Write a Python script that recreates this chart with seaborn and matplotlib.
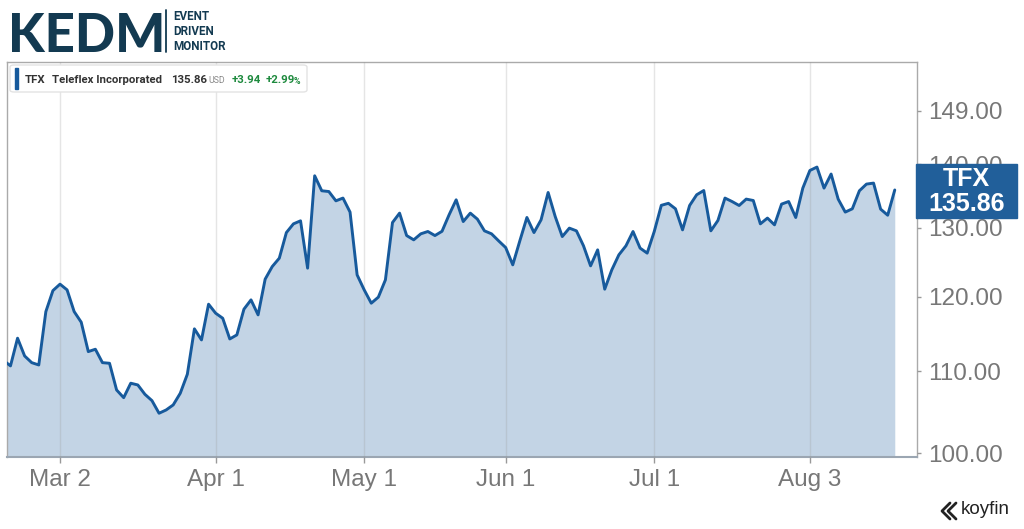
import numpy as np
import pandas as pd
import seaborn as sns
import matplotlib.pyplot as plt
from matplotlib.patches import Rectangle, FancyBboxPatch
from matplotlib.lines import Line2D
from matplotlib.ticker import FixedLocator, FuncFormatter, NullLocator

# daily closes (trading days)
prices = [111.40, 110.68, 114.31, 111.97, 111.10, 110.80, 117.91, 120.83, 121.74, 120.93,
          117.91, 116.46, 112.54, 112.85, 111.10, 111.02, 107.62, 106.66, 108.47, 108.25,
          107.08, 106.29, 104.74, 105.14, 105.76, 107.21, 109.61, 115.56, 114.08, 118.93,
          117.69, 117.00, 114.21, 114.75, 118.24, 119.53, 117.46, 122.45, 124.26, 125.48,
          129.28, 130.60, 131.06, 124.03, 138.12, 135.73, 135.61, 134.15, 134.58, 132.40,
          123.06, 120.93, 119.07, 119.91, 122.35, 130.80, 132.24, 128.83, 128.19, 129.09,
          129.44, 128.83, 129.47, 131.98, 134.31, 130.95, 132.24, 131.32, 129.54, 129.09,
          128.04, 127.04, 124.51, 128.04, 131.57, 129.28, 131.21, 135.46, 131.72, 128.68,
          129.95, 129.54, 127.30, 124.36, 126.70, 121.03, 123.78, 125.97, 127.30, 129.44,
          126.96, 126.22, 129.44, 133.45, 133.76, 132.91, 129.69, 133.42, 135.10, 135.77,
          129.54, 131.11, 134.58, 134.04, 133.42, 134.42, 134.20, 130.60, 131.48, 130.45,
          133.64, 134.04, 131.57, 136.15, 138.98, 139.53, 136.15, 138.40, 134.42, 132.40,
          132.91, 135.73, 136.79, 136.95, 132.86, 131.92, 135.86]
tick_idx = [8, 30, 51, 71, 92, 114]
tick_labels = ['Mar 2', 'Apr 1', 'May 1', 'Jun 1', 'Jul 1', 'Aug 3']
ytick_vals = [100, 110, 120, 130, 140, 149]
ticker = 'TFX'
company = 'Teleflex Incorporated'
last_px = '135.86'
chg = '+3.94'
chg_pct = '+2.99'

W, H = 1024, 529
def fx(px):
    return px / W
def fy(py):
    return 1 - py / H

sns.set_style('white')
plt.rcParams['font.family'] = ['Liberation Sans', 'DejaVu Sans']

LINE = '#175a9c'
NAVY = '#133a51'
GREY = '#777777'

fig = plt.figure(figsize=(10.24, 5.29), dpi=100)
ax = fig.add_axes([fx(7.3), fy(456.7), (916.7 - 7.3) / W, (456.7 - 62) / H])

df = pd.DataFrame({'Day': np.arange(len(prices)), 'Price': prices})
ymin, ymax = 99.57, 157.7
ax.set_yscale('log')
ax.fill_between(df['Day'], df['Price'], ymin, color='#c3d4e5', lw=0, zorder=1)
sns.lineplot(data=df, x='Day', y='Price', ax=ax, color=LINE, linewidth=2.1, zorder=3)
ax.set_ylim(ymin, ymax)
ax.set_xlim(0.55, 129.1)

ax.set_xticks(tick_idx)
ax.set_xticklabels(tick_labels)
ax.set_axisbelow(False)
ax.grid(axis='x', color='#999999', alpha=0.25, lw=1)
ax.grid(axis='y', visible=False)

ax.yaxis.tick_right()
ax.yaxis.set_major_locator(FixedLocator(ytick_vals))
ax.yaxis.set_major_formatter(FuncFormatter(lambda v, p: f'{v:.2f}'))
ax.yaxis.set_minor_locator(NullLocator())
ax.tick_params(axis='y', which='major', right=True, left=False, length=3, width=1,
               color='#999999', pad=5, labelsize=17.5, labelcolor=GREY)
ax.tick_params(axis='x', bottom=True, length=4, width=1, color='#999999', pad=5,
               labelsize=17.5, labelcolor=GREY)
ax.set_xlabel('')
ax.set_ylabel('')
for s in ['left', 'top', 'right']:
    ax.spines[s].set_color('#aaaaaa')
    ax.spines[s].set_linewidth(1)
ax.spines['bottom'].set_color('#9ba6b2')
ax.spines['bottom'].set_linewidth(1.5)

# last price tag on the right (it covers part of the 140.00 label, as in the original)
fig.add_artist(Rectangle((fx(916), fy(218.3)), (1017 - 916) / W, (218.3 - 164.3) / H,
                         transform=fig.transFigure, color='#215f9a', zorder=5))
fig.text(fx(966.5), fy(179), ticker, ha='center', va='center', color='white',
         fontsize=18, fontweight='bold', zorder=6)
fig.text(fx(966.5), fy(204), last_px, ha='center', va='center', color='white',
         fontsize=18, fontweight='bold', zorder=6)

# legend box
fig.add_artist(FancyBboxPatch((fx(10), fy(92)), (307 - 10) / W, (92 - 65) / H,
                              boxstyle='round,pad=0,rounding_size=0.004',
                              transform=fig.transFigure, facecolor='white',
                              edgecolor='#e3e3e3', lw=1, zorder=5))
fig.add_artist(Rectangle((fx(15), fy(89)), 3 / W, 21 / H, transform=fig.transFigure,
                         color=LINE, zorder=6))
kw = dict(va='center', fontsize=8.2, fontweight='bold', family='Roboto', zorder=6)
fig.text(fx(25), fy(80), ticker, color='#333333', **kw)
fig.text(fx(52.5), fy(80), company, color='#333333', **kw)
fig.text(fx(171.5), fy(80), last_px, color='#333333', **kw)
fig.text(fx(208), fy(80.8), 'USD', color='#888888', va='center', fontsize=6.3,
         family='Roboto', zorder=6)
fig.text(fx(231.5), fy(80), chg, color='#1e8a3e', **kw)
fig.text(fx(265.5), fy(80), chg_pct, color='#1e8a3e', **kw)
fig.text(fx(294), fy(81), '%', color='#1e8a3e', va='center', fontsize=6.3,
         fontweight='bold', family='Roboto', zorder=6)

# KEDM logo
fig.text(fx(8), fy(52), 'KEDM', fontsize=38, fontweight='black', family='Lato',
         color=NAVY, va='baseline')
fig.add_artist(Line2D([fx(166), fx(166)], [fy(10), fy(52)], color=NAVY, lw=1.3))
for word, yy in zip(['EVENT', 'DRIVEN', 'MONITOR'], [16, 31.5, 46.5]):
    fig.text(fx(173), fy(yy), word, fontsize=8.4, fontweight='bold', family='Roboto',
             color=NAVY, va='center')

# koyfin mark
for dx in (0, 6):
    fig.add_artist(Line2D([fx(950 + dx), fx(942 + dx), fx(950 + dx)],
                          [fy(503), fy(511), fy(519)], color='#222222', lw=2))
fig.text(fx(961), fy(510), 'koyfin', fontsize=13.5, color='#222222', va='center')

fig.savefig('out.png', dpi=100)
